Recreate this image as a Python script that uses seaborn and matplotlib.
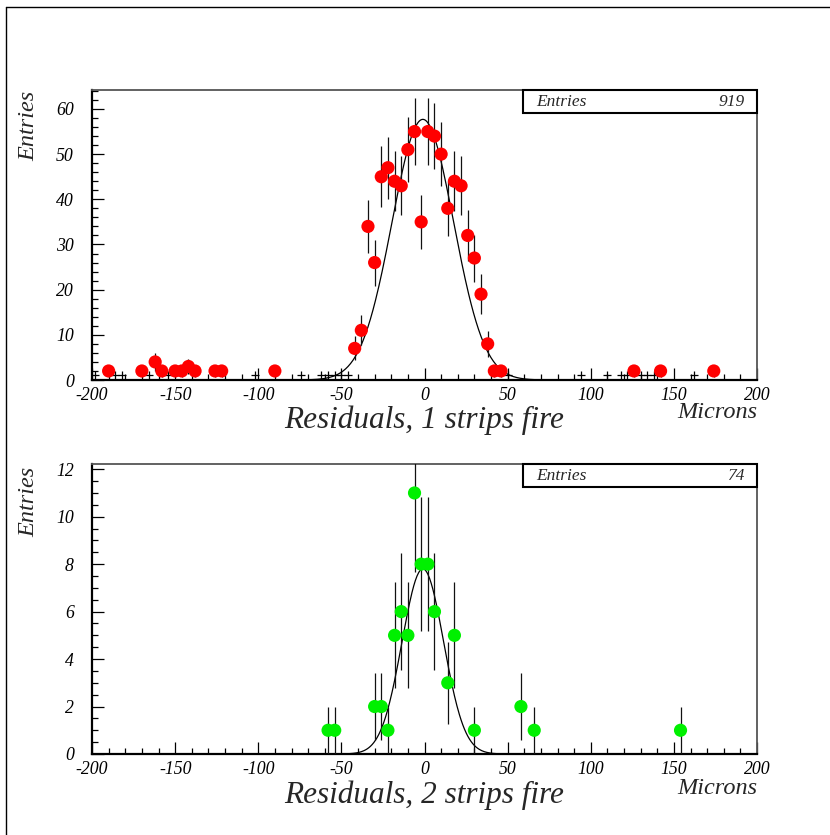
import numpy as np
import matplotlib
matplotlib.use("Agg")
import matplotlib.pyplot as plt
import seaborn as sns
from matplotlib.ticker import MultipleLocator
from matplotlib.patches import Rectangle
from matplotlib.lines import Line2D

# ---------------- data ----------------
x_one = [-190, -170, -162, -158, -150, -146, -142, -138, -126, -122, -90,
         -42, -38, -34, -30, -26, -22, -18, -14, -10, -6, -2, 2, 6, 10, 14,
         18, 22, 26, 30, 34, 38, 42, 46, 126, 142, 174]
y_one = [2, 2, 4, 2, 2, 2, 3, 2, 2, 2, 2,
         7, 11, 34, 26, 45, 47, 44, 43, 51, 55, 35, 55, 54, 50, 38,
         44, 43, 32, 27, 19, 8, 2, 2, 2, 2, 2]
# small crosses near the baseline (single-entry bins)
x_one_cross = [-198, -186, -182, -166, -154, -102, -74, -62, -58, -54, -50,
               -46, 50, 94, 110, 118, 122, 130, 134, 138, 162]
y_one_cross = [1] * len(x_one_cross)
fit_one = [57.7, -1.0, 18.5]   # amplitude, mean, sigma

x_two = [-58, -54, -30, -26, -22, -18, -14, -10, -6, -2, 2, 6, 14, 18, 30,
         58, 66, 154]
y_two = [1, 1, 2, 2, 1, 5, 6, 5, 11, 8, 8, 6, 3, 5, 1, 2, 1, 1]
fit_two = [7.8, -1.0, 12.5]

entries = ["919", "74"]
titles = ["Residuals, 1 strips fire", "Residuals, 2 strips fire"]
x_ticks = [-200, -150, -100, -50, 0, 50, 100, 150, 200]

# ---------------- style ----------------
sns.set_theme(style="ticks")
plt.rcParams['font.family'] = ['Liberation Serif', 'DejaVu Serif']
plt.rcParams['font.style'] = 'italic'
plt.rcParams['axes.unicode_minus'] = False

W, H = 830, 835
fig = plt.figure(figsize=(W / 100, H / 100), dpi=100)
fig.patch.set_facecolor('white')

# outer frame (top and left edges)
fig.add_artist(Line2D([6 / W, 6 / W], [0, 1 - 7 / H], transform=fig.transFigure,
                      color='black', lw=1.0))
fig.add_artist(Line2D([6 / W, 1], [1 - 7 / H, 1 - 7 / H], transform=fig.transFigure,
                      color='black', lw=1.0))

panels = [
    dict(top=90, bottom=380, x=x_one, y=y_one, color='#ff0000', fit=fit_one,
         ymax=64.2, ymajor=10, yminor=2, title_y=420, micron_y=413, ylab_y=126),
    dict(top=464, bottom=754, x=x_two, y=y_two, color='#00f000', fit=fit_two,
         ymax=12.22, ymajor=2, yminor=0.5, title_y=795, micron_y=788, ylab_y=502),
]

for i, p in enumerate(panels):
    ax = fig.add_axes([92 / W, 1 - p['bottom'] / H, 665 / W, (p['bottom'] - p['top']) / H])
    ax.set_facecolor('white')
    xs = np.array(p['x'], dtype=float)
    ys = np.array(p['y'], dtype=float)

    # fit curve
    A, mu, sg = p['fit']
    xc = np.linspace(-200, 200, 801)
    yc = A * np.exp(-0.5 * ((xc - mu) / sg) ** 2)
    sns.lineplot(x=xc, y=yc, ax=ax, color='black', lw=0.9, zorder=2)

    # error bars
    ax.errorbar(xs, ys, yerr=np.sqrt(ys), fmt='none', ecolor='#111111',
                elinewidth=0.9, capsize=0, zorder=3)
    # markers
    sns.scatterplot(x=xs, y=ys, ax=ax, color=p['color'], s=90, edgecolor='none',
                    linewidth=0, zorder=4, legend=False)

    if i == 0:
        ax.plot(x_one_cross, y_one_cross, linestyle='none', marker='+',
                color='black', markersize=6, markeredgewidth=0.9, zorder=3)

    ax.set_xlim(-200, 200)
    ax.set_ylim(0, p['ymax'])
    ax.set_xticks(x_ticks)
    ax.set_xticklabels([str(t) for t in x_ticks])
    ax.xaxis.set_minor_locator(MultipleLocator(10))
    ax.yaxis.set_major_locator(MultipleLocator(p['ymajor']))
    ax.yaxis.set_minor_locator(MultipleLocator(p['yminor']))
    ax.tick_params(which='major', direction='in', length=8.5, width=0.9,
                   colors='black', labelsize=12.8)
    ax.tick_params(which='minor', direction='in', length=4.3, width=0.9,
                   colors='black')
    ax.tick_params(axis='x', which='major', pad=5)
    ax.tick_params(axis='y', which='major', pad=13)
    ax.tick_params(top=False, right=False, which='both')
    for lab in ax.get_xticklabels() + ax.get_yticklabels():
        lab.set_fontstyle('italic')
    ax.set_xlabel('')
    ax.set_ylabel('')
    ax.grid(False)

    for side in ['left', 'bottom']:
        ax.spines[side].set_color('black')
        ax.spines[side].set_linewidth(1.6)
    for side in ['top', 'right']:
        ax.spines[side].set_visible(True)
        ax.spines[side].set_color('#555555')
        ax.spines[side].set_linewidth(1.3)

    # stats box
    hbox = (p['bottom'] - p['top'])
    y0 = 1 - 23.3 / hbox
    ax.add_patch(Rectangle(((523 - 92) / 665, y0), (757 - 523) / 665, 1 - y0,
                           transform=ax.transAxes, facecolor='white',
                           edgecolor='black', lw=1.5, zorder=6, clip_on=False))
    ax.text((536 - 92) / 665, (1 + y0) / 2, 'Entries', transform=ax.transAxes,
            ha='left', va='center', fontsize=12.5, style='italic', zorder=7)
    ax.text((745 - 92) / 665, (1 + y0) / 2, entries[i], transform=ax.transAxes,
            ha='right', va='center', fontsize=12.5, style='italic', zorder=7)

    # labels
    fig.text(29 / W, 1 - p['ylab_y'] / H, 'Entries', rotation=90, ha='center',
             va='center', fontsize=17.5, style='italic')
    fig.text(424 / W, 1 - p['title_y'] / H, titles[i], ha='center', va='center',
             fontsize=22.5, style='italic')
    fig.text(757 / W, 1 - p['micron_y'] / H, 'Microns', ha='right', va='center',
             fontsize=17.5, style='italic')

fig.savefig('out.png', dpi=100, facecolor='white')
